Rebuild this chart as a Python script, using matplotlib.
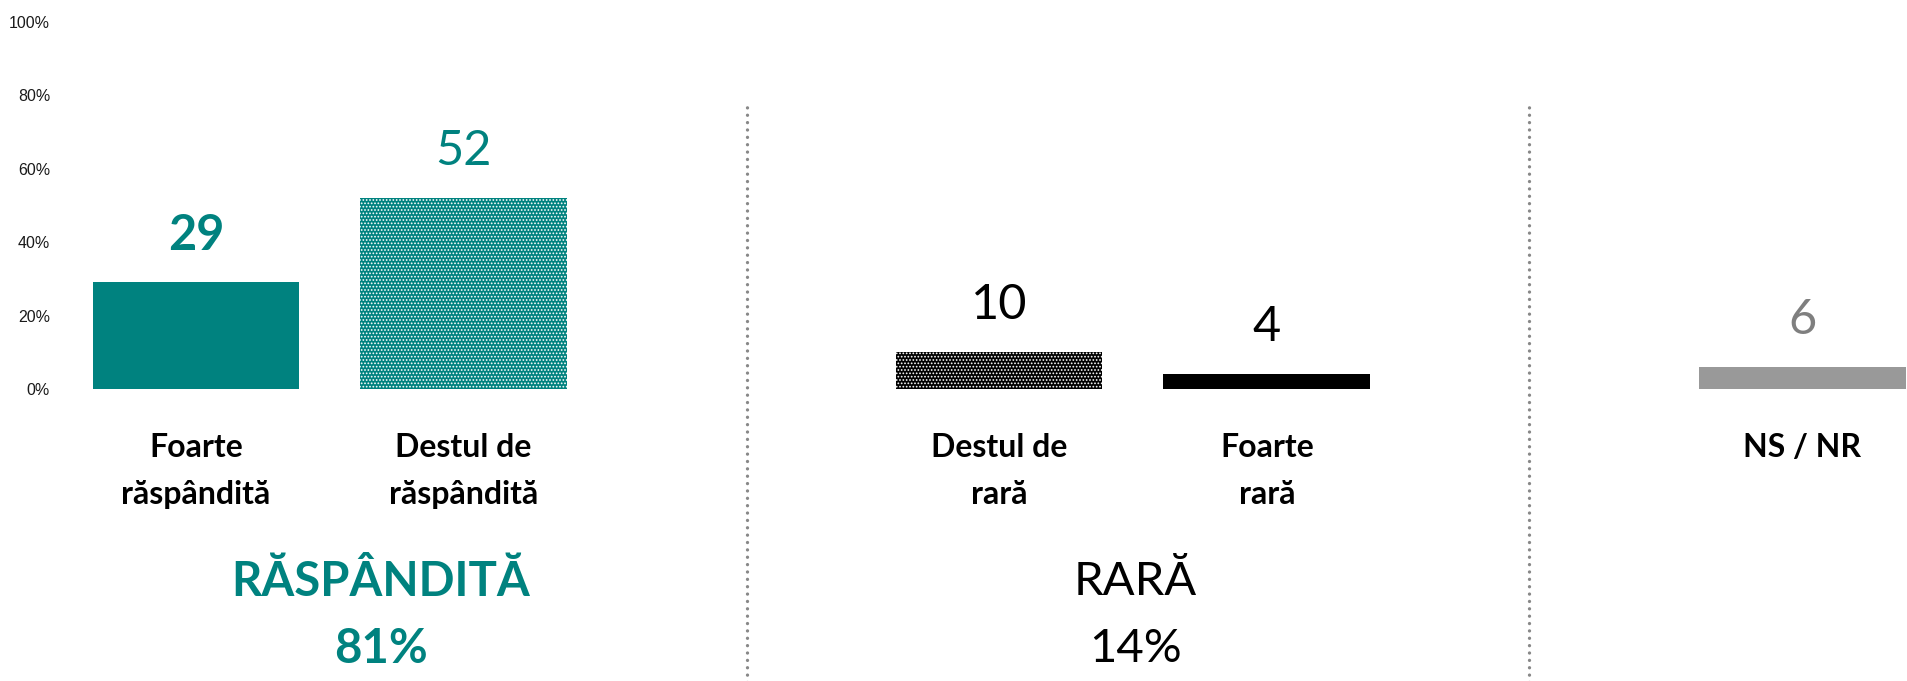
import numpy as np
import matplotlib.pyplot as plt

# data
categories = ['Foarte\nrăspândită', 'Destul de\nrăspândită',
              'Destul de\nrară', 'Foarte\nrară', 'NS / NR']
values = [29, 52, 10, 4, 6]
group_of = [0, 0, 1, 1, 2]          # which block each bar belongs to
group_names = ['RĂSPÂNDITĂ', 'RARĂ']
group_totals = [81, 14]
yticks = [0, 20, 40, 60, 80, 100]

TEAL = '#00827F'
FONT = ['Lato', 'DejaVu Sans']

plt.rcParams['hatch.linewidth'] = 0.8

# one empty slot between blocks
pos = np.array([i + g for i, g in enumerate(group_of)], dtype=float)

fig = plt.figure(figsize=(19.08, 6.81), dpi=100)
ax = fig.add_axes([57 / 1908, 292 / 681, (1908 - 57) / 1908, 367.3 / 681])

styles = [
    dict(color=TEAL),
    dict(color=TEAL, edgecolor='white', hatch='.....'),
    dict(color='black', edgecolor='white', hatch='.....'),
    dict(color='black'),
    dict(color='#999999'),
]
for x, v, st in zip(pos, values, styles):
    fc = st['color']
    ax.bar(x, v, width=0.772, facecolor=fc, edgecolor=st.get('edgecolor', fc),
           hatch=st.get('hatch'), linewidth=0)

# value labels
lab_style = [
    dict(color=TEAL, fontweight='bold'),
    dict(color=TEAL, fontweight='normal'),
    dict(color='black', fontweight='normal'),
    dict(color='black', fontweight='normal'),
    dict(color='#7f7f7f', fontweight='normal'),
]
for x, v, st in zip(pos, values, lab_style):
    ax.annotate(str(v), (x, v), xytext=(0, 34), textcoords='offset points',
                ha='center', va='center', fontsize=35, family=FONT, **st)

# category labels under the bars, two lines placed separately
xt = ax.get_xaxis_transform()
for x, c in zip(pos, categories):
    for k, line in enumerate(c.split('\n')):
        ax.text(x, -0.185 - 0.129 * k, line, transform=xt, ha='center',
                va='baseline', fontsize=23, fontweight='bold', family=FONT)

# block titles
block_x = [0.69, 3.51]
block_col = [TEAL, 'black']
block_w = ['bold', 'normal']
for bx, name, tot, col, w in zip(block_x, group_names, group_totals, block_col, block_w):
    ax.text(bx, -0.525, name, transform=xt, ha='center', va='center',
            fontsize=34, color=col, fontweight=w, family=FONT)
    ax.text(bx, -0.708, f'{tot}%', transform=xt, ha='center', va='center',
            fontsize=34, color=col, fontweight=w, family=FONT)

# dotted separators between blocks
for dx in [2.06, 4.98]:
    ax.axvline(dx, ymin=-0.8, ymax=0.775, color='#888888', linewidth=2.4,
               linestyle=(0, (0.01, 2.2)), dash_capstyle='round', clip_on=False)

ax.set_xlim(-0.519, 6.395)
ax.set_ylim(0, 100)
ax.set_yticks(yticks)
ax.set_yticklabels([f'{t}%' for t in yticks], fontsize=11.5,
                   family='Liberation Sans', color='#1a1a1a')
ax.tick_params(axis='y', length=0, pad=5)
ax.set_xticks([])
for s in ax.spines.values():
    s.set_visible(False)

fig.savefig('out.png', dpi=100)
